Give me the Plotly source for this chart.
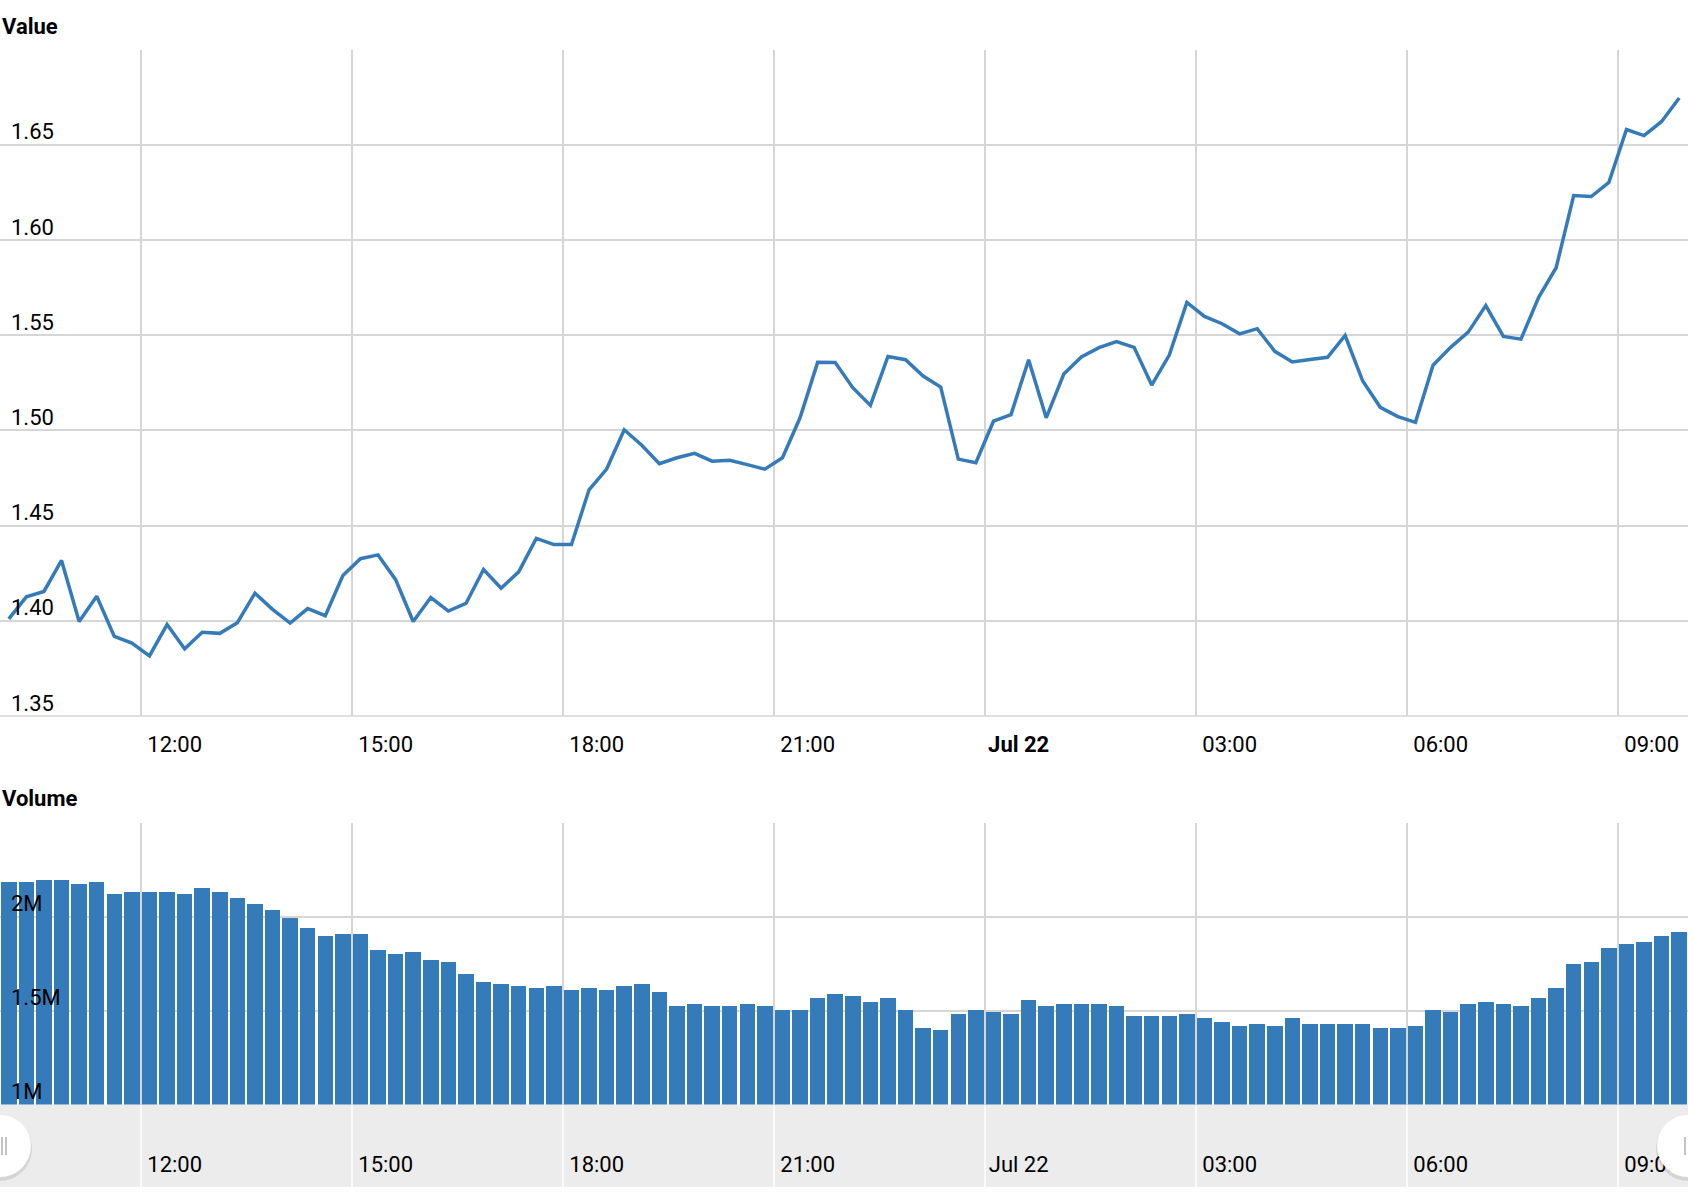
import plotly.graph_objects as go
import pandas as pd

# ---------------- data ----------------
start_time = "2024-07-21 10:00"
n_points = 96
period_minutes = 15

value = [
    1.401, 1.4126, 1.4154, 1.4317, 1.3996, 1.4129, 1.3918, 1.3883, 1.3816, 1.398,
    1.3853, 1.394, 1.3934, 1.399, 1.4145, 1.406, 1.3988, 1.4064, 1.4027, 1.4238,
    1.4326, 1.4346, 1.4216, 1.3996, 1.4122, 1.4051, 1.4091, 1.4269, 1.4171, 1.4257,
    1.4433, 1.4400, 1.4400, 1.4688, 1.4797, 1.5003, 1.4922, 1.4825, 1.4856, 1.4879,
    1.4838, 1.4843, 1.4820, 1.4796, 1.4856, 1.5066, 1.5357, 1.5356, 1.5224, 1.5131,
    1.5388, 1.5371, 1.5285, 1.5227, 1.4849, 1.4830, 1.5048, 1.5083, 1.5371, 1.5066,
    1.5296, 1.5385, 1.5434, 1.5466, 1.5436, 1.5238, 1.5395, 1.5672, 1.5598, 1.5560,
    1.5507, 1.5534, 1.5415, 1.5359, 1.5372, 1.5384, 1.5498, 1.5259, 1.5121, 1.5072,
    1.5042, 1.5342, 1.5436, 1.5516, 1.5655, 1.5493, 1.5479, 1.5697, 1.5854, 1.6233,
    1.6228, 1.6302, 1.6580, 1.6548, 1.6622, 1.6745,
]

volume = [
    2184000, 2184000, 2195000, 2195000, 2174000, 2184000, 2121000, 2131000, 2131000, 2131000,
    2121000, 2152000, 2131000, 2099000, 2067000, 2035000, 1993000, 1940000, 1897000, 1908000,
    1908000, 1823000, 1801000, 1812000, 1770000, 1759000, 1695000, 1652000, 1642000, 1631000,
    1621000, 1631000, 1610000, 1621000, 1610000, 1631000, 1642000, 1599000, 1525000, 1535000,
    1525000, 1525000, 1535000, 1525000, 1504000, 1504000, 1567000, 1589000,
    1578000, 1546000, 1567000, 1504000, 1408000, 1397000, 1482000, 1504000, 1493000, 1482000,
    1557000, 1525000, 1535000, 1535000, 1535000, 1525000, 1472000, 1472000, 1472000, 1482000,
    1461000, 1440000, 1418000, 1429000, 1418000, 1461000, 1429000, 1429000, 1429000, 1429000,
    1408000, 1408000, 1418000, 1504000, 1493000, 1535000, 1546000, 1535000, 1525000, 1567000,
    1621000, 1748000, 1759000, 1833000, 1855000, 1865000, 1897000, 1918000,
]

x_range = ["2024-07-21 10:00", "2024-07-22 10:00"]
tick_times = ["2024-07-21 12:00", "2024-07-21 15:00", "2024-07-21 18:00", "2024-07-21 21:00",
              "2024-07-22 00:00", "2024-07-22 03:00", "2024-07-22 06:00", "2024-07-22 09:00"]
tick_text = ["12:00", "15:00", "18:00", "21:00", "<b>Jul 22</b>", "03:00", "06:00", "09:00"]
scroll_tick_text = ["12:00", "15:00", "18:00", "21:00", "Jul 22", "03:00", "06:00", "09:00"]

value_ticks = [1.35, 1.40, 1.45, 1.50, 1.55, 1.60, 1.65, 1.70]
value_tick_text = ["1.35", "1.40", "1.45", "1.50", "1.55", "1.60", "1.65", ""]
volume_ticks = [1000000, 1500000, 2000000, 2500000]
volume_tick_text = ["1M", "1.5M", "2M", ""]

# ---------------- styling ----------------
W, H = 1688, 1200
BLUE = "#367bb9"
GRID = "#d6d6d6"
FONT = "Roboto"
TXT = "#000000"
FS = 22

times = pd.date_range(start_time, periods=n_points, freq=f"{period_minutes}min")
centers = times + pd.Timedelta(minutes=period_minutes / 2)
bar_width_ms = period_minutes * 60 * 1000 * 0.88


def py(px):
    return 1 - px / H


def pxx(px):
    return px / W


top_dom = [py(716), py(49.5)]
vol_dom = [py(1104.5), py(822.5)]
scr_dom = [py(1187), py(1104.5)]

fig = go.Figure()
fig.add_trace(go.Scatter(x=centers, y=value, mode="lines",
                         line=dict(color=BLUE, width=3.5), xaxis="x", yaxis="y",
                         showlegend=False, hoverinfo="x+y"))
fig.add_trace(go.Bar(x=centers, y=volume, width=bar_width_ms, marker=dict(color=BLUE, line=dict(width=0)),
                     xaxis="x2", yaxis="y2", showlegend=False))
fig.add_trace(go.Scatter(x=[centers[0]], y=[0.5], mode="markers", marker=dict(opacity=0),
                         xaxis="x3", yaxis="y3", showlegend=False, hoverinfo="skip"))

tickfont = dict(family=FONT, size=FS, color=TXT)

common_x = dict(range=x_range, type="date", tickvals=tick_times, showgrid=True,
                gridcolor=GRID, gridwidth=1.5, zeroline=False, showline=False, ticks="",
                fixedrange=True)

layout = dict(
    width=W, height=H, autosize=False,
    margin=dict(l=0, r=0, t=0, b=0, pad=0),
    paper_bgcolor="white", plot_bgcolor="white",
    font=dict(family=FONT, size=FS, color=TXT),
    xaxis=dict(common_x, domain=[0, 1], anchor="y", ticktext=tick_text,
               tickfont=tickfont, ticklabelshift=34, ticklabelstandoff=13),
    yaxis=dict(domain=top_dom, anchor="x", range=[1.35, 1.70], tickvals=value_ticks,
               ticktext=value_tick_text, ticklabelposition="inside", ticklabelshift=-13,
               ticklabelstandoff=8, tickfont=tickfont, showgrid=True, gridcolor=GRID,
               gridwidth=1.5, zeroline=False, showline=False, ticks="", fixedrange=True),
    xaxis2=dict(common_x, domain=[0, 1], anchor="y2", showticklabels=False),
    yaxis2=dict(domain=vol_dom, anchor="x2", range=[1000000, 2500000], tickvals=volume_ticks,
                ticktext=volume_tick_text, ticklabelposition="inside", ticklabelshift=-13,
                ticklabelstandoff=8, tickfont=tickfont, showgrid=True, gridcolor=GRID,
                gridwidth=1.5, zeroline=False, showline=False, ticks="", fixedrange=True),
    xaxis3=dict(common_x, domain=[0, 1], anchor="y3", ticktext=scroll_tick_text,
                gridcolor="#fafafa", gridwidth=2, tickfont=tickfont,
                ticklabelposition="inside", ticklabelshift=34, ticklabelstandoff=8),
    yaxis3=dict(domain=scr_dom, anchor="x3", range=[0, 1], visible=False, fixedrange=True),
    bargap=0,
    hovermode="x",
)
fig.update_layout(layout)

# bottom gridline of the value panel (edge gridline)
fig.add_shape(type="line", xref="x domain", yref="y domain", x0=0, x1=1, y0=0, y1=0,
              line=dict(color=GRID, width=1.5), layer="below")

# scrollbar background
fig.add_shape(type="rect", xref="x3 domain", yref="y3 domain", x0=0, x1=1, y0=0, y1=1,
              fillcolor="#ececec", line=dict(width=0), layer="below")

# titles
fig.add_annotation(text="<b>Value</b>", xref="paper", yref="paper", x=pxx(0), y=py(26),
                   xanchor="left", yanchor="middle", showarrow=False,
                   font=dict(family=FONT, size=FS, color=TXT))
fig.add_annotation(text="<b>Volume</b>", xref="paper", yref="paper", x=pxx(0), y=py(798),
                   xanchor="left", yanchor="middle", showarrow=False,
                   font=dict(family=FONT, size=FS, color=TXT))

# scrollbar grips
cy = 1146
for cx in (0, W):
    r = 31
    fig.add_shape(type="circle", xref="paper", yref="paper",
                  x0=pxx(cx - r - 1), x1=pxx(cx + r + 1), y0=py(cy + r + 4), y1=py(cy - r + 1),
                  fillcolor="rgba(0,0,0,0.10)", line=dict(width=0), layer="above")
    fig.add_shape(type="circle", xref="paper", yref="paper",
                  x0=pxx(cx - r), x1=pxx(cx + r), y0=py(cy + r), y1=py(cy - r),
                  fillcolor="white", line=dict(width=0), layer="above")
for gx in (2, 6, W - 3):
    fig.add_shape(type="line", xref="paper", yref="paper", x0=pxx(gx), x1=pxx(gx),
                  y0=py(cy + 9), y1=py(cy - 9), line=dict(color="#b0b0b0", width=1.5),
                  layer="above")

fig.write_html("out.html", config={"displayModeBar": False})
